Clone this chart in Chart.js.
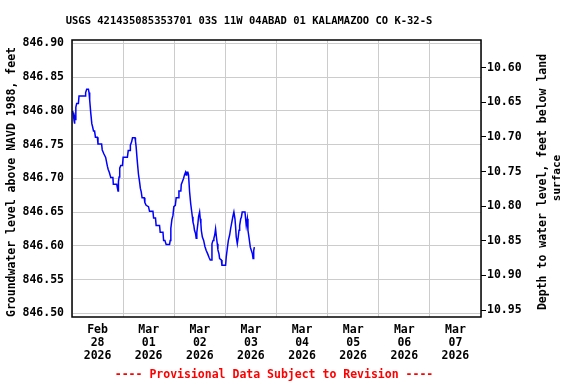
<!DOCTYPE html>
<html>
<head>
<meta charset="utf-8">
<script src="https://cdn.jsdelivr.net/npm/chart.js@4.4.1/dist/chart.umd.min.js"></script>
<style>
  html, body { margin: 0; padding: 0; background: #fff; }
  #wrap { width: 576px; height: 384px; }
</style>
</head>
<body>
<div id="wrap"><canvas id="chart" width="576" height="384"></canvas></div>
<script>
const title = 'USGS 421435085353701 03S 11W 04ABAD 01 KALAMAZOO CO K-32-S';
const footer = '---- Provisional Data Subject to Revision ----';
const leftTitle = 'Groundwater level above NAVD 1988, feet';
const rightTitle = ['Depth to water level, feet below land', 'surface'];

// hours since Feb 28 2026 00:00
const hours = [
  0.3, 0.6, 1.0, 1.1, 1.4, 1.6, 1.8, 2.2, 3.0, 3.3, 6.2, 6.4, 6.9, 7.7, 8.0, 8.3, 8.8, 9.3, 9.7, 10.1,
  10.6, 11.0, 11.9, 12.2, 13.9, 14.2, 15.0, 15.8, 16.6, 17.0, 17.5, 18.2, 19.2, 19.4, 21.0, 21.3, 21.6, 21.8, 22.1, 22.4,
  22.9, 23.7, 24.0, 26.0, 26.4, 27.3, 27.4, 28.0, 28.4, 29.6, 29.8, 30.1, 30.6, 31.2, 31.7, 32.1, 32.5, 32.9, 33.9, 34.2,
  34.8, 35.9, 36.4, 38.0, 38.3, 39.2, 39.5, 41.1, 41.4, 42.7, 43.0, 43.6, 44.2, 45.8, 46.1, 46.4, 46.9, 47.4, 47.8, 48.5,
  48.9, 49.9, 50.2, 51.1, 51.3, 51.8, 52.4, 52.8, 53.3, 53.6, 53.9, 54.4, 54.7, 55.2, 55.7, 56.1, 56.5, 56.8, 57.2, 57.5,
  58.0, 58.3, 58.6, 59.1, 59.4, 59.9, 60.2, 60.5, 60.7, 61.2, 61.8, 62.4, 63.0, 63.7, 64.3, 64.9, 65.5, 65.7, 66.2, 66.6,
  67.0, 67.4, 67.8, 68.2, 68.5, 69.0, 69.3, 70.1, 70.4, 72.1, 72.4, 72.9, 73.4, 74.0, 74.5, 74.9, 75.5, 76.0, 76.5, 76.8,
  77.1, 77.6, 78.0, 78.4, 78.7, 79.2, 79.5, 79.9, 81.2, 81.5, 81.8, 82.3, 82.6, 83.1, 83.7, 84.2, 84.7, 85.0, 85.3, 85.6
];
const levels = [
  846.800, 846.795, 846.785, 846.781, 846.791, 846.787, 846.805, 846.811, 846.811, 846.822, 846.822, 846.827, 846.832, 846.832, 846.827, 846.816, 846.797, 846.781, 846.776, 846.770,
  846.770, 846.761, 846.761, 846.751, 846.751, 846.742, 846.736, 846.731, 846.718, 846.713, 846.709, 846.701, 846.701, 846.691, 846.691, 846.686, 846.681, 846.695, 846.702, 846.715,
  846.719, 846.719, 846.731, 846.731, 846.741, 846.741, 846.749, 846.754, 846.760, 846.760, 846.755, 846.747, 846.727, 846.706, 846.695, 846.685, 846.680, 846.671, 846.671, 846.664,
  846.660, 846.658, 846.651, 846.651, 846.641, 846.641, 846.630, 846.630, 846.620, 846.620, 846.608, 846.608, 846.602, 846.602, 846.608, 846.626, 846.639, 846.645, 846.658, 846.660,
  846.671, 846.671, 846.681, 846.681, 846.691, 846.695, 846.700, 846.705, 846.709, 846.705, 846.709, 846.709, 846.705, 846.680, 846.663, 846.653, 846.643, 846.635, 846.630, 846.623,
  846.618, 846.611, 846.620, 846.633, 846.643, 846.650, 846.640, 846.633, 846.623, 846.613, 846.608, 846.599, 846.593, 846.588, 846.583, 846.579, 846.579, 846.603, 846.608, 846.611,
  846.616, 846.625, 846.613, 846.603, 846.594, 846.588, 846.581, 846.579, 846.571, 846.571, 846.583, 846.596, 846.608, 846.616, 846.626, 846.633, 846.643, 846.650, 846.640, 846.628,
  846.613, 846.603, 846.612, 846.623, 846.630, 846.640, 846.642, 846.650, 846.650, 846.640, 846.630, 846.640, 846.623, 846.612, 846.598, 846.593, 846.588, 846.581, 846.593, 846.598
];

const dayMonths = ['Feb', 'Mar', 'Mar', 'Mar', 'Mar', 'Mar', 'Mar', 'Mar'];
const dayNums = ['28', '01', '02', '03', '04', '05', '06', '07'];
const dayYears = ['2026', '2026', '2026', '2026', '2026', '2026', '2026', '2026'];
const levelTicks = [846.50, 846.55, 846.60, 846.65, 846.70, 846.75, 846.80, 846.85, 846.90];
const depthTicks = [10.60, 10.65, 10.70, 10.75, 10.80, 10.85, 10.90, 10.95];

const mono = '"DejaVu Sans Mono", monospace';
const tickFont = { family: mono, size: 11.5, weight: 'bold', lineHeight: 1.13 };

const frame = {
  id: 'frame',
  afterDraw(chart) {
    const { ctx, chartArea: a } = chart;
    ctx.save();
    ctx.strokeStyle = '#000';
    ctx.lineWidth = 1.5;
    ctx.strokeRect(a.left, a.top, a.right - a.left, a.bottom - a.top);

    ctx.textAlign = 'center';
    ctx.textBaseline = 'middle';
    ctx.fillStyle = '#000';
    ctx.font = 'bold 10.5px ' + mono;
    ctx.fillText(title, 249, 21);

    ctx.font = 'bold 11.5px ' + mono;
    ctx.fillStyle = '#f00';
    ctx.fillText(footer, 274, 375);

    ctx.fillStyle = '#000';
    ctx.save();
    ctx.translate(12, 182);
    ctx.rotate(-Math.PI / 2);
    ctx.fillText(leftTitle, 0, 0);
    ctx.restore();

    ctx.save();
    ctx.translate(543, 182);
    ctx.rotate(-Math.PI / 2);
    ctx.fillText(rightTitle[0], 0, 0);
    ctx.font = 'bold 11px ' + mono;
    ctx.fillText(rightTitle[1], 4, 14);
    ctx.restore();
    ctx.restore();
  }
};

new Chart(document.getElementById('chart'), {
  type: 'line',
  data: {
    datasets: [{
      data: hours.map((h, i) => ({ x: h, y: levels[i] })),
      borderColor: '#0000ff',
      borderWidth: 1.5,
      pointRadius: 0,
      tension: 0,
      yAxisID: 'y',
    }],
  },
  options: {
    responsive: false,
    devicePixelRatio: 1,
    animation: false,
    layout: { padding: { top: 40, left: 0, right: 0, bottom: 0 } },
    plugins: { legend: { display: false }, tooltip: { enabled: false } },
    scales: {
      x: {
        type: 'linear',
        min: 0,
        max: 192,
        afterBuildTicks: (axis) => {
          const t = [];
          for (let v = 0; v <= 192; v += 12) t.push({ value: v });
          axis.ticks = t;
        },
        afterFit: (axis) => { axis.height = 67; },
        grid: {
          drawTicks: false,
          color: (c) => (c.tick && c.tick.value % 24 === 0 ? '#cccccc' : 'rgba(0,0,0,0)'),
          lineWidth: 1,
        },
        border: { display: false },
        ticks: {
          autoSkip: false,
          maxRotation: 0,
          padding: 7,
          color: '#000',
          font: tickFont,
          callback: (v) => {
            if ((v - 12) % 24 !== 0) return '';
            const i = (v - 12) / 24;
            return [dayMonths[i], dayNums[i], dayYears[i]];
          },
        },
      },
      y: {
        position: 'left',
        min: 846.4945,
        max: 846.9049,
        afterBuildTicks: (axis) => { axis.ticks = levelTicks.map((v) => ({ value: v })); },
        afterFit: (axis) => { axis.width = 72; },
        grid: { drawTicks: false, color: '#cccccc', lineWidth: 1 },
        border: { display: false },
        ticks: { padding: 8, color: '#000', font: tickFont, callback: (v) => v.toFixed(2) },
      },
      depth: {
        position: 'right',
        reverse: true,
        min: 10.560,
        max: 10.960,
        afterBuildTicks: (axis) => { axis.ticks = depthTicks.map((v) => ({ value: v })); },
        afterFit: (axis) => { axis.width = 95; },
        grid: { drawOnChartArea: false, drawTicks: true, tickLength: 5, color: '#000', lineWidth: 1 },
        border: { display: false },
        ticks: { padding: 1, color: '#000', font: tickFont, callback: (v) => v.toFixed(2) },
      },
    },
  },
  plugins: [frame],
});
</script>
</body>
</html>
